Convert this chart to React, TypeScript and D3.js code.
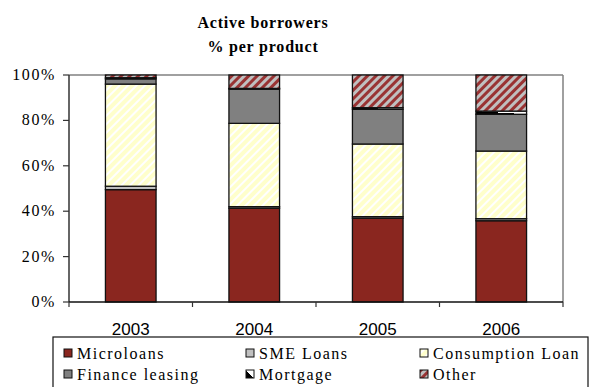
import React from "react";
import * as d3 from "d3";

const years = ["2003", "2004", "2005", "2006"];
const seriesNames = ["Microloans", "SME Loans", "Consumption Loan", "Finance leasing", "Mortgage", "Other"];
const microloans = [49.5, 41.3, 36.9, 35.8];
const smeLoans = [1.5, 0.7, 0.7, 0.9];
const consumptionLoan = [45.0, 36.7, 32.0, 29.8];
const financeLeasing = [2.3, 15.1, 15.3, 16.2];
const mortgage = [0.5, 0.3, 0.7, 1.4];
const other = [1.2, 5.9, 14.4, 15.9];
const yTicks = [0, 20, 40, 60, 80, 100];

const W = 590, H = 387;
const left = 69, right = 563, top = 75, bottom = 302;

const fills = ["#8A261F", "#C0C0C0", "url(#pCons)", "#808080", "url(#pMort)", "url(#pOther)"];

export default function App() {
  const x = d3.scaleBand<string>().domain(years).range([left, right]).padding(0);
  const y = d3.scaleLinear().domain([0, 100]).range([bottom, top]);
  const barW = x.bandwidth() * 0.41;

  const rows = years.map((yr, i) => ({
    year: yr,
    "Microloans": microloans[i],
    "SME Loans": smeLoans[i],
    "Consumption Loan": consumptionLoan[i],
    "Finance leasing": financeLeasing[i],
    "Mortgage": mortgage[i],
    "Other": other[i],
  }));
  const stack = d3.stack<any>().keys(seriesNames);
  const layers = stack(rows);

  const serif = "'Liberation Serif', serif";
  const sans = "'Liberation Sans', sans-serif";

  const legendCols = [64, 246, 420];
  const legendRows = [353, 374];

  return (
    <svg width={W} height={H} style={{ position: "absolute", left: 0, top: 0 }}>
      <defs>
        <pattern id="pCons" patternUnits="userSpaceOnUse" width="6" height="6" patternTransform="rotate(45)">
          <rect width="6" height="6" fill="#FFFFCC" />
          <rect width="2" height="6" fill="#FFFFFF" />
        </pattern>
        <pattern id="pOther" patternUnits="userSpaceOnUse" width="6" height="6" patternTransform="rotate(45)">
          <rect width="6" height="6" fill="#C0C0C0" />
          <rect width="3" height="6" fill="#993333" />
        </pattern>
        <linearGradient id="pMort" x1="0" y1="1" x2="1" y2="0">
          <stop offset="0" stopColor="#000" />
          <stop offset="0.5" stopColor="#000" />
          <stop offset="0.5" stopColor="#fff" />
          <stop offset="1" stopColor="#fff" />
        </linearGradient>
      </defs>
      <rect width={W} height={H} fill="#fff" />

      <text x={263} y={28} textAnchor="middle" fontFamily={serif} fontWeight="bold" fontSize={16} letterSpacing={0.8}>Active borrowers</text>
      <text x={263} y={52} textAnchor="middle" fontFamily={serif} fontWeight="bold" fontSize={16} letterSpacing={0.8}>% per product</text>

      {/* frame */}
      <line x1={left} x2={right} y1={top} y2={top} stroke="#808080" strokeWidth={1.5} />
      <line x1={right} x2={right} y1={top} y2={bottom} stroke="#808080" strokeWidth={1.5} />

      {/* bars */}
      {layers.map((layer, si) => (
        <g key={seriesNames[si]}>
          {layer.map((d, i) => {
            const bx = (x(years[i]) as number) + (x.bandwidth() - barW) / 2;
            const y0 = y(d[0]);
            const y1 = y(d[1]);
            return (
              <rect key={years[i]} x={bx} y={y1} width={barW} height={Math.max(0, y0 - y1)}
                fill={fills[si]} stroke="#111" strokeWidth={1.3} />
            );
          })}
        </g>
      ))}

      {/* axes */}
      <line x1={left} x2={left} y1={top} y2={bottom} stroke="#333" strokeWidth={1.5} />
      <line x1={left} x2={right} y1={bottom} y2={bottom} stroke="#111" strokeWidth={1.5} />
      {yTicks.map((t) => (
        <g key={t}>
          <line x1={left - 6} x2={left} y1={y(t)} y2={y(t)} stroke="#333" strokeWidth={1.2} />
          <text x={56} y={y(t) + 5} textAnchor="end" fontFamily={serif} fontSize={16} letterSpacing={1.6}>{t + "%"}</text>
        </g>
      ))}
      {[...years.map((yr) => x(yr) as number), right].map((tx, i) => (
        <line key={i} x1={tx} x2={tx} y1={bottom} y2={bottom + 5} stroke="#333" strokeWidth={1.2} />
      ))}
      {years.map((yr) => (
        <text key={yr} x={(x(yr) as number) + x.bandwidth() / 2} y={335} textAnchor="middle" fontFamily={sans} fontSize={17}>{yr}</text>
      ))}

      {/* legend */}
      <rect x={53} y={337} width={535} height={60} fill="#fff" stroke="#111" strokeWidth={1.2} />
      {seriesNames.map((name, i) => {
        const col = i % 3;
        const row = Math.floor(i / 3);
        const mx = legendCols[col];
        const my = legendRows[row];
        return (
          <g key={name}>
            <rect x={mx} y={my - 4} width={8} height={8} fill={fills[i]} stroke="#111" strokeWidth={1} />
            <text x={mx + 13} y={my + 5.5} fontFamily={serif} fontSize={16} letterSpacing={1.5}>{name}</text>
          </g>
        );
      })}
    </svg>
  );
}
